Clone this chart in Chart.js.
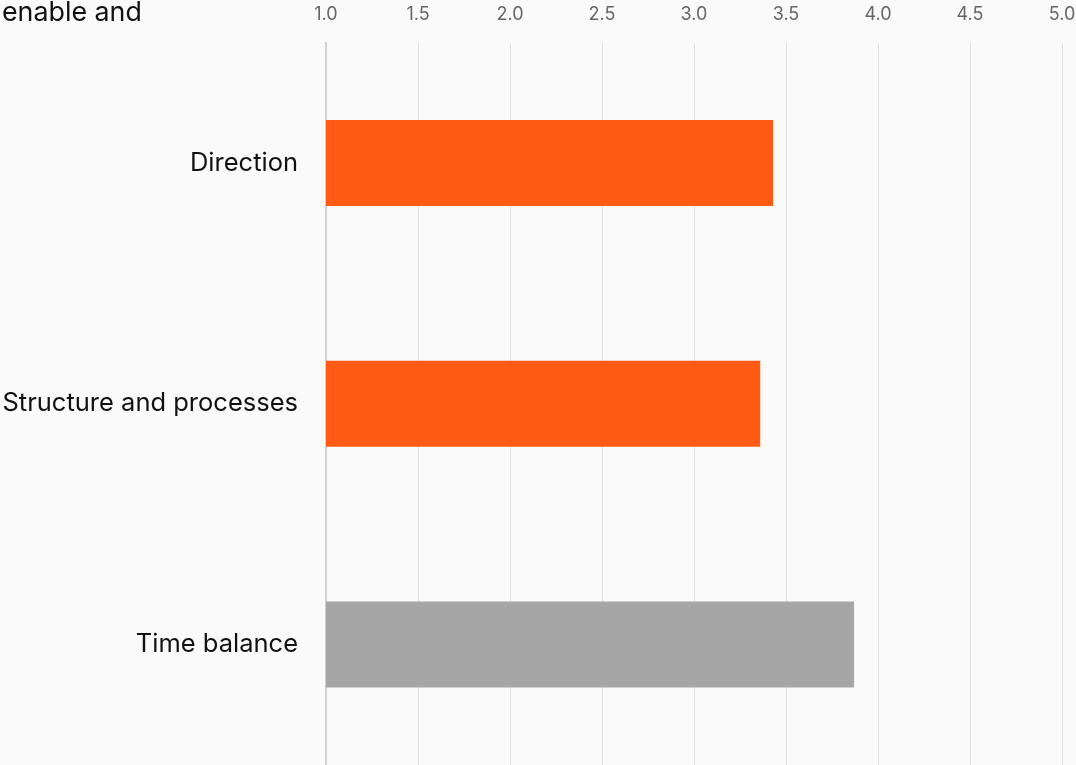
<!DOCTYPE html>
<html>
<head>
<meta charset="utf-8">
<script src="https://cdn.jsdelivr.net/npm/chart.js@4/dist/chart.umd.min.js"></script>
<style>
  html, body { margin: 0; padding: 0; background: #fafafa; }
  #wrap { position: relative; width: 1076px; height: 765px; }
</style>
</head>
<body>
<div id="wrap"><canvas id="chart"></canvas></div>
<script>
// values
const categories = ["Direction", "Structure and processes", "Time balance"]
const scores = [3.43, 3.36, 3.87]
const barColors = ["#ff5b14", "#ff5b14", "#a6a6a6"]
const titleText = "enable and"

// cut-off heading in the top-left corner
const cornerTitle = {
  id: "cornerTitle",
  afterDraw(chart) {
    const c = chart.ctx
    c.save()
    c.font = "26.8px Inter"
    c.fillStyle = "#111"
    c.textBaseline = "alphabetic"
    c.textAlign = "left"
    c.fillText(titleText, 2, 21)
    c.restore()
  }
}

new Chart(document.getElementById("chart"), {
  type: "bar",
  data: {
    labels: categories,
    datasets: [{
      data: scores,
      backgroundColor: barColors,
      borderWidth: 0,
      barPercentage: 0.357,
      categoryPercentage: 1.0,
    }]
  },
  options: {
    indexAxis: "y",
    responsive: true,
    maintainAspectRatio: false,
    animation: false,
    layout: { padding: { top: 0, right: 0, bottom: 0, left: 0 } },
    plugins: {
      legend: { display: false },
      tooltip: { enabled: false },
    },
    scales: {
      x: {
        position: "top",
        min: 1,
        max: 5,
        afterFit: (axis) => {
          axis.height = 42.5
          axis.paddingLeft = 0
          axis.paddingRight = 14
        },
        ticks: {
          stepSize: 0.5,
          padding: 17,
          color: "#666",
          font: { family: "Inter", size: 18 },
          callback: (v) => Number(v).toFixed(1),
        },
        grid: { color: "#e0e0e0", lineWidth: 1, drawTicks: false },
        border: { display: false },
      },
      y: {
        afterFit: (axis) => {
          axis.width = 326
          // labels sit mid-category, no need for the extra vertical room
          axis.paddingTop = 0
          axis.paddingBottom = 0
        },
        ticks: {
          padding: 28,
          color: "#111",
          font: { family: "Inter", size: 25.5 },
        },
        grid: { display: false, drawTicks: false },
        border: { display: true, color: "#d0d0d0", width: 2 },
      }
    }
  },
  plugins: [cornerTitle]
})
</script>
</body>
</html>
